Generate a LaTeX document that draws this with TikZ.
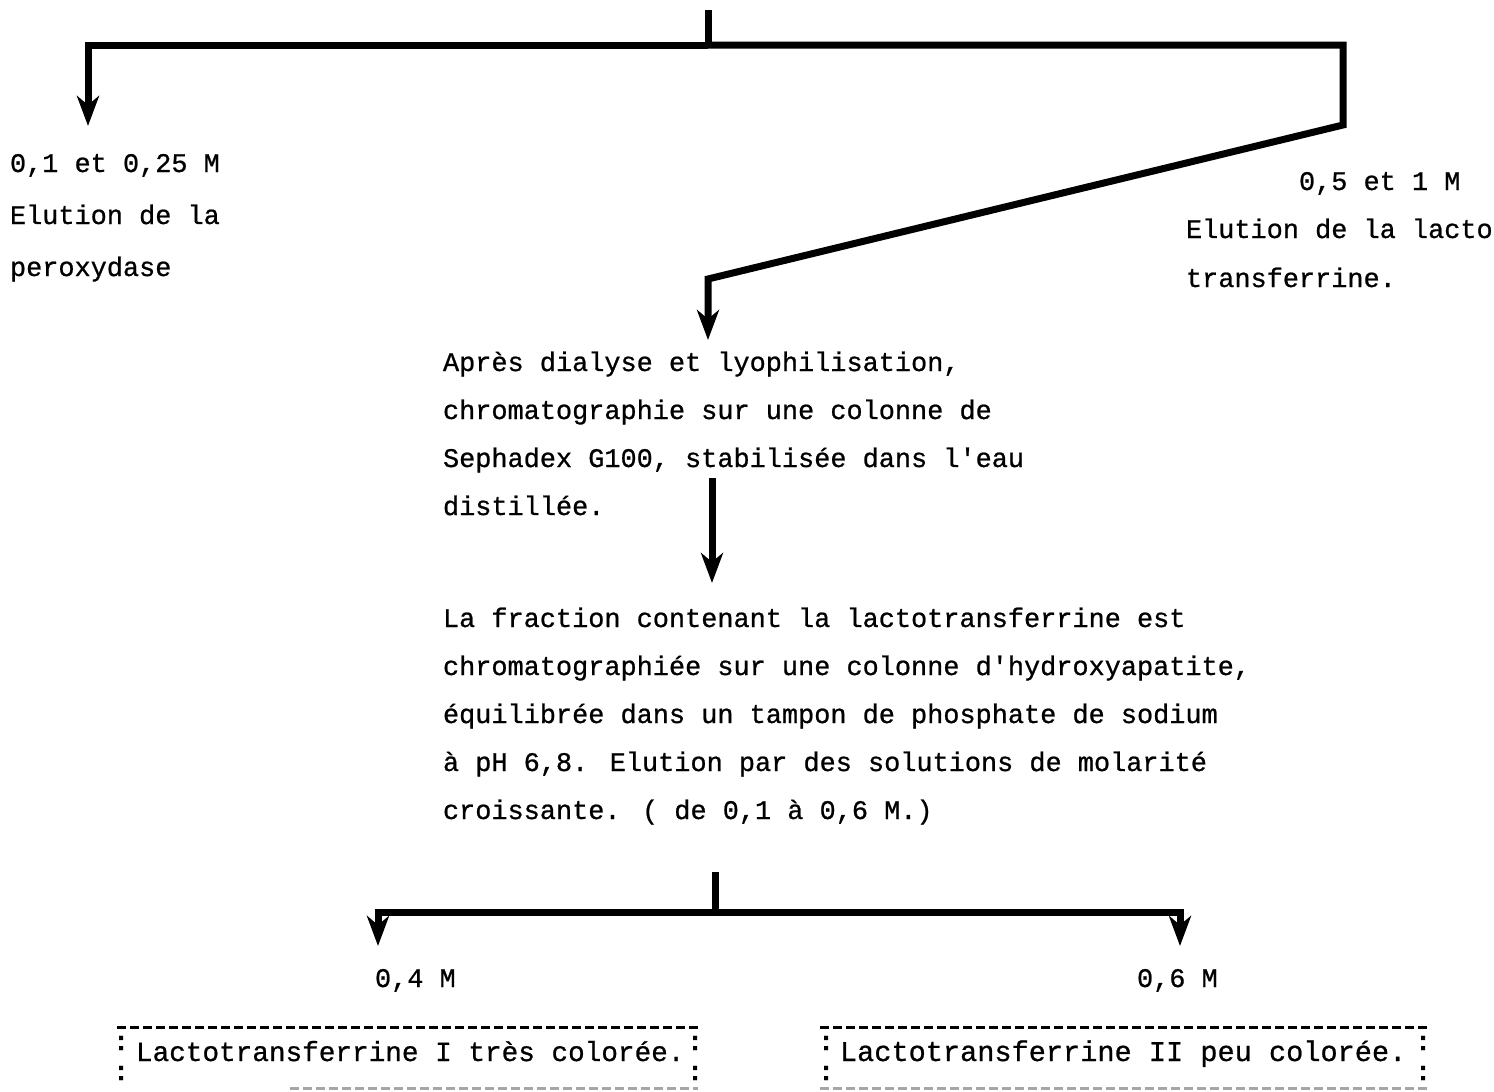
\documentclass[tikz,border=0pt]{standalone}
\usepackage{fontspec}
\newfontfamily\typewriter[FakeBold=0.8]{Liberation Mono}
\usetikzlibrary{arrows.meta}
\begin{document}
\begin{tikzpicture}[x=1pt,y=-1pt,
  every node/.style={inner sep=0pt, outer sep=0pt},
  txt/.style={font=\typewriter\fontsize{26.9}{48}\selectfont, anchor=base west, align=left},
  widetxt/.style={txt, font=\typewriter\fontsize{26.9}{52}\selectfont},
  flow/.style={line width=7pt, line join=miter, line cap=butt},
  flowarrow/.style={flow, -{Stealth[length=30pt,width=22pt,inset=9pt]}},
  typedash/.style={line width=3pt, dash pattern=on 9pt off 4pt},
  fadedash/.style={typedash, black!35},
  colon/.style={font=\typewriter\bfseries\fontsize{26.9}{30}\selectfont, anchor=center}]
\useasboundingbox (0,0) rectangle (1494,1092);

% first split
\coordinate (src) at (708,10);
\coordinate (jT) at (708,45);
\coordinate (aL) at (88,126);
\coordinate (bR1) at (1343,125);
\coordinate (bR2) at (708,279);
\coordinate (aR) at (708,340);

\draw[flow] (src) -- (jT);
\draw[flowarrow] (jT) -| (aL);
\draw[flowarrow] (jT) -| (bR1) -- (bR2) -- (aR);

% multi-line nodes sit on the baseline of their last line
\node[widetxt] (t1) at (10,276) {0,1 et 0,25 M\\Elution de la\\peroxydase};
\node[txt] (t2a) at (1299,190) {0,5 et 1 M};
\node[txt, font=\typewriter\fontsize{26.9}{49}\selectfont] (t2b) at (1186,287) {Elution de la lacto-\\transferrine.};

% gel filtration
\node[txt] (t3) at (443,515) {Après dialyse et lyophilisation,\\chromatographie sur une colonne de\\Sephadex G100, stabilisée dans l'eau\\distillée.};

\coordinate (m1) at (712,478);
\coordinate (m2) at (712,583);
\draw[flowarrow] (m1) -- (m2);

% hydroxyapatite
\node[txt] (t4) at (443,819) {La fraction contenant la lactotransferrine est\\chromatographiée sur une colonne d'hydroxyapatite,\\équilibrée dans un tampon de phosphate de sodium\\à pH 6,8. Elution par des solutions de molarité\\croissante. ( de 0,1 à 0,6 M.)};

% second split
\coordinate (s2) at (715,872);
\coordinate (jB) at (715,912);
\coordinate (bL) at (378,946);
\coordinate (bRt) at (1180,946);
\draw[flow] (s2) -- (jB);
\draw[flowarrow] (jB) -| (bL);
\draw[flowarrow] (jB) -| (bRt);

\node[txt] (m04) at (375,987) {0,4 M};
\node[txt] (m06) at (1137,987) {0,6 M};

% result boxes
\draw[typedash] (117,1027) -- (698,1027);
\draw[fadedash] (290,1088) -- (698,1088);
\node[colon] (c1) at (121,1043) {:};
\node[colon] (c2) at (121,1073) {:};
\node[colon] (c3) at (695,1043) {:};
\node[colon] (c4) at (695,1073) {:};
\node[txt, font=\typewriter\fontsize{27.7}{48}\selectfont] (r1) at (136,1061) {Lactotransferrine I très colorée.};

\draw[typedash] (820,1027) -- (1427,1027);
\draw[fadedash] (820,1088) -- (1427,1088);
\node[colon] (c5) at (826,1043) {:};
\node[colon] (c6) at (826,1073) {:};
\node[colon] (c7) at (1423,1043) {:};
\node[colon] (c8) at (1423,1073) {:};
\node[txt, font=\typewriter\fontsize{28.6}{48}\selectfont] (r2) at (840,1061) {Lactotransferrine II peu colorée.};
\end{tikzpicture}
\end{document}
